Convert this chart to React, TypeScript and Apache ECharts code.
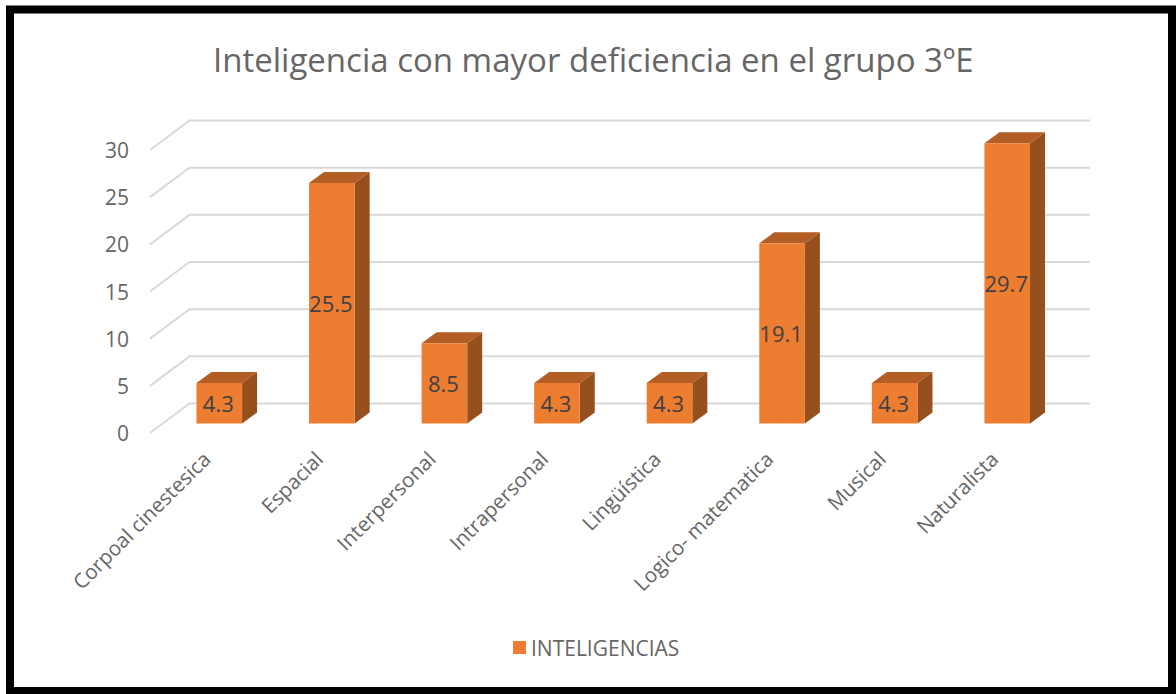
import React, { useEffect, useRef } from "react";
import * as echarts from "echarts";

const categories = ["Corpoal cinestesica", "Espacial", "Interpersonal", "Intrapersonal", "Lingüística", "Logico- matematica", "Musical", "Naturalista"];
const values = [4.3, 25.5, 8.5, 4.3, 4.3, 19.1, 4.3, 29.7];
const ticks = [0, 5, 10, 15, 20, 25, 30];
const titleText = "Inteligencia con mayor deficiencia en el grupo 3ºE";
const seriesName = "INTELIGENCIAS";
const FONT = '"Open Sans", sans-serif';

const WALL_DX = 39.5, WALL_DY = -29.5;
const BAR_DX = 13, BAR_DY = -9.5;
const DEPTH_DX = 15, DEPTH_DY = -11;

export default function App() {
  const ref = useRef<HTMLDivElement>(null);
  useEffect(() => {
    const chart = echarts.init(ref.current!, undefined, { renderer: "svg" });
    chart.setOption({
      animation: false,
      backgroundColor: "#fff",
      title: {
        text: titleText,
        left: 208,
        top: 38,
        textStyle: { fontFamily: FONT, fontSize: 33, fontWeight: "normal", color: "#666" },
      },
      legend: {
        data: [{ name: seriesName, icon: "rect" }],
        left: 508,
        top: 632,
        itemWidth: 13,
        itemHeight: 13,
        itemGap: 8,
        textStyle: { fontFamily: FONT, fontSize: 21, color: "#666" },
      },
      grid: { left: 150, top: 150, width: 900.5, height: 283 },
      xAxis: {
        type: "category",
        data: categories,
        axisLine: { show: false },
        axisTick: { show: false },
        axisLabel: { rotate: 45, margin: 22, interval: 0, fontFamily: FONT, fontSize: 20.5, color: "#666" },
      },
      yAxis: {
        type: "value",
        min: 0,
        max: 30,
        interval: 5,
        axisLine: { show: false },
        axisTick: { show: false },
        splitLine: { show: false },
        axisLabel: { margin: 21, fontFamily: FONT, fontSize: 21, color: "#666" },
      },
      graphic: [
        {
          type: "rect",
          silent: true,
          z: 100,
          shape: { x: 10, y: 9.5, width: 1162, height: 681.5 },
          style: { fill: "none", stroke: "#000", lineWidth: 8 },
        },
      ],
      series: [
        {
          type: "custom",
          name: "grid",
          z: 1,
          silent: true,
          data: ticks.map((t) => [t]),
          encode: { y: 0 },
          renderItem: (_p: any, api: any) => {
            const [x0, y] = api.coord([0, api.value(0)]);
            const band = api.size([1, 0])[0];
            const left = x0 - band / 2;
            const right = left + band * categories.length;
            return {
              type: "polyline",
              shape: { points: [[left, y], [left + WALL_DX, y + WALL_DY], [right + WALL_DX, y + WALL_DY]] },
              style: { fill: "none", stroke: "#D9D9D9", lineWidth: 2 },
            };
          },
        },
        {
          type: "custom",
          name: seriesName,
          z: 2,
          itemStyle: { color: "#ED7D31" },
          data: values.map((v, i) => [i, v]),
          encode: { x: 0, y: 1 },
          renderItem: (_p: any, api: any) => {
            const v = api.value(1);
            const [cx, yTop] = api.coord([api.value(0), v]);
            const [, yBase] = api.coord([api.value(0), 0]);
            const w = api.size([1, 0])[0] * 0.405;
            const l = cx + BAR_DX - w / 2, r = l + w;
            const t = yTop + BAR_DY, b = yBase + BAR_DY;
            return {
              type: "group",
              children: [
                {
                  type: "polygon",
                  shape: { points: [[r, t], [r + DEPTH_DX, t + DEPTH_DY], [r + DEPTH_DX, b + DEPTH_DY], [r, b]] },
                  style: { fill: "#96501E" },
                },
                {
                  type: "polygon",
                  shape: { points: [[l, t], [l + DEPTH_DX, t + DEPTH_DY], [r + DEPTH_DX, t + DEPTH_DY], [r, t]] },
                  style: { fill: "#B35E24" },
                },
                { type: "rect", shape: { x: l, y: t, width: w, height: b - t }, style: { fill: "#ED7D31" } },
                {
                  type: "text",
                  x: (l + r) / 2 - 1,
                  y: (t + b) / 2,
                  style: {
                    text: String(v),
                    fill: "#404040",
                    font: `22px ${FONT}`,
                    align: "center",
                    verticalAlign: "middle",
                  },
                },
              ],
            };
          },
        },
      ],
    });
    return () => chart.dispose();
  }, []);
  return <div ref={ref} style={{ position: "absolute", left: 0, top: 0, width: 1176, height: 694 }} />;
}
